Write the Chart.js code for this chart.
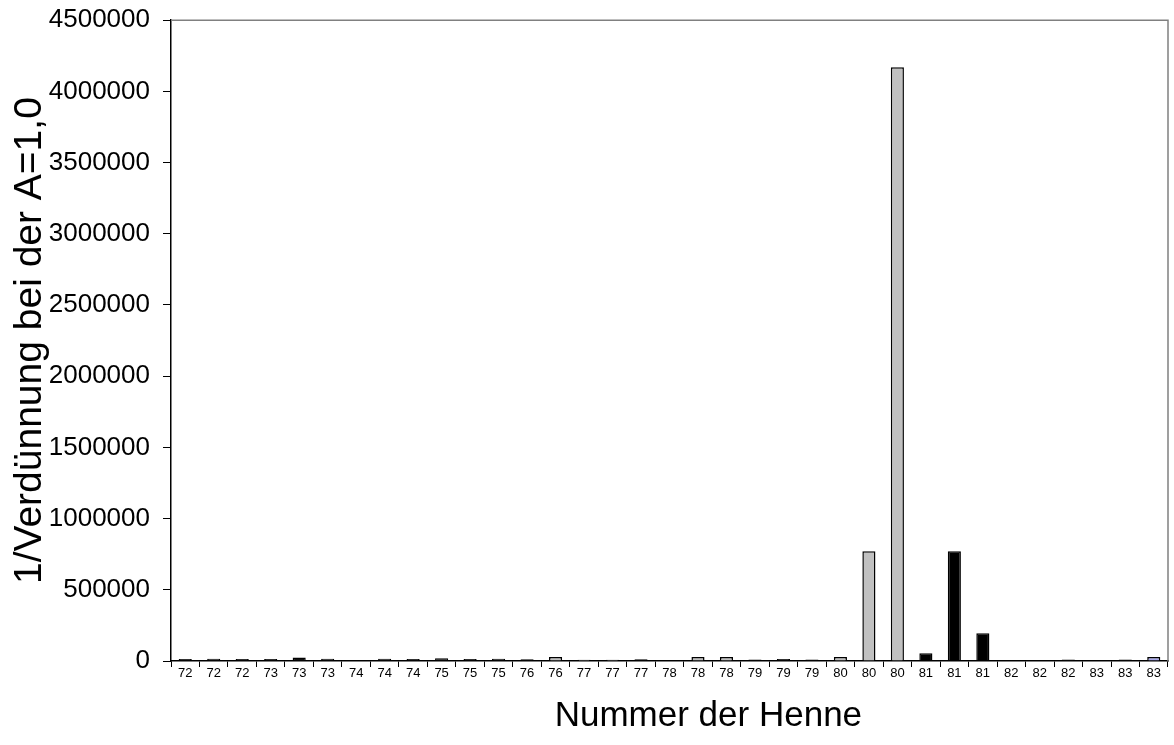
<!DOCTYPE html>
<html>
<head>
<meta charset="utf-8">
<script src="https://cdn.jsdelivr.net/npm/chart.js@4"></script>
<style>
  html, body { margin: 0; padding: 0; background: #fff; }
  #wrap { width: 1174px; height: 745px; }
</style>
</head>
<body>
<div id="wrap"><canvas id="myChart" width="1174" height="745"></canvas></div>
<script>
const ctx = document.getElementById('myChart').getContext('2d');

// hen numbers, one bar per sample
const labels = ["72","72","72","73","73","73","74","74","74","75","75","75","76","76",
    "77","77","77","78","78","78","79","79","79","80","80","80","81","81","81",
    "82","82","82","83","83","83"];

const values = [14000, 16000, 14000, 14000, 24000, 16000, 0, 16000, 14000, 20000, 14000, 16000, 12000, 28000,
    9000, 9000, 12000, 0, 28000, 28000, 11000, 14000, 11000, 28000, 770000, 4170000, 54000, 770000, 195000,
    0, 0, 11000, 0, 11000, 28000];

// fill type per bar: d = dark, g = grey, b = black, l = lavender
const fillType = ["d","d","d","d","d","d","d","d","d","d","d","d","d","g",
    "g","g","d","d","g","g","d","d","d","g","g","g","b","b","b",
    "d","d","d","d","d","l"];

const fillColors = { d: '#111111', g: '#c0c0c0', b: '#000000', l: '#a8a8ec' };

const frame = {
    id: 'frame',
    afterDraw(chart) {
        const a = chart.chartArea;
        const c = chart.ctx;
        c.save();
        c.strokeStyle = '#808080';
        c.lineWidth = 1.5;
        c.beginPath();
        c.moveTo(a.left, a.top);
        c.lineTo(a.right, a.top);
        c.lineTo(a.right, a.bottom);
        c.stroke();
        c.restore();
    }
};

const data = {
    labels: labels,
    datasets: [{
        data: values,
        backgroundColor: fillType.map(t => fillColors[t]),
        borderColor: '#000000',
        borderWidth: 1.5,
        categoryPercentage: 1.0,
        barPercentage: 0.46,
    }],
};

const config = {
    type: 'bar',
    data: data,
    plugins: [frame],
    options: {
        responsive: false,
        animation: false,
        layout: { padding: { top: 14, right: 6, left: 0, bottom: 0 } },
        plugins: {
            legend: { display: false },
            tooltip: { enabled: false },
        },
        scales: {
            x: {
                grid: {
                    display: true,
                    offset: true,
                    drawOnChartArea: false,
                    drawTicks: true,
                    tickLength: 6,
                    color: '#000',
                    lineWidth: 1,
                },
                border: { color: '#000', width: 1.5 },
                ticks: {
                    color: '#000',
                    font: { family: 'Liberation Sans', size: 13 },
                    maxRotation: 0,
                    autoSkip: false,
                    padding: -1,
                },
                title: {
                    display: true,
                    text: '\u00A0\u00A0\u00A0\u00A0\u00A0\u00A0\u00A0\u00A0Nummer der Henne',
                    color: '#000',
                    font: { family: 'Liberation Sans', size: 35 },
                    padding: { top: 0, bottom: 8 },
                },
                afterFit(scale) { scale.height = 84; },
            },
            y: {
                min: 0,
                max: 4500000,
                grid: {
                    display: true,
                    drawOnChartArea: false,
                    drawTicks: true,
                    tickLength: 8,
                    color: '#000',
                },
                border: { color: '#000', width: 1.5 },
                ticks: {
                    stepSize: 500000,
                    color: '#000',
                    padding: 13,
                    font: { family: 'Liberation Sans', size: 26, lineHeight: 0.55 },
                    callback: v => String(v),
                },
                title: {
                    display: true,
                    text: '1/Verdünnung bei der A=1,0',
                    color: '#000',
                    font: { family: 'Liberation Sans', size: 39 },
                    padding: { top: 7, bottom: 0 },
                },
                afterFit(scale) { scale.width = 171; },
            },
        },
    },
};

const myChart = new Chart(ctx, config);
</script>
</body>
</html>
